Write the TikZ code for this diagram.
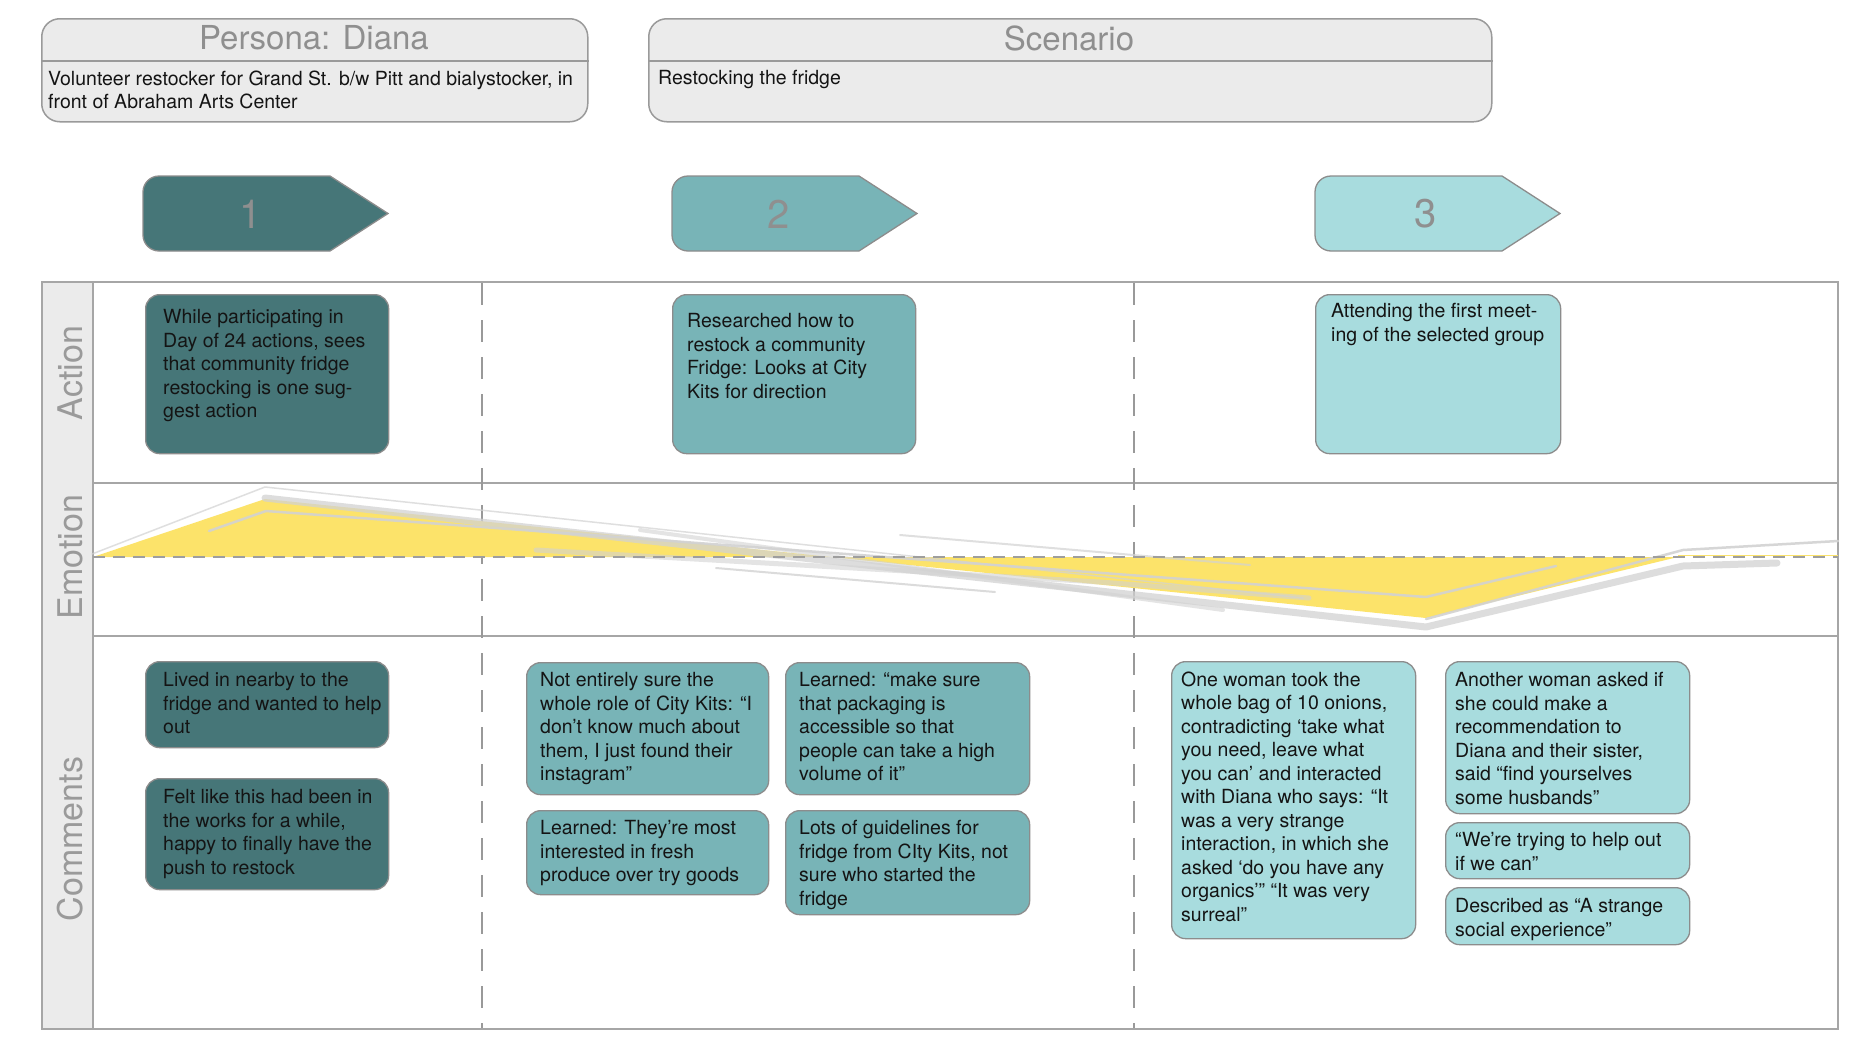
\documentclass[tikz,border=0pt]{standalone}
\usepackage{fontspec}
\setmainfont{TeX Gyre Heros}
\definecolor{tealA}{HTML}{467678}
\definecolor{tealB}{HTML}{78B4B7}
\definecolor{tealC}{HTML}{A8DCDE}
\definecolor{hdrfill}{HTML}{EBEBEB}
\definecolor{hdrline}{HTML}{9A9A9A}
\definecolor{boxline}{HTML}{8C8C8C}
\definecolor{frameline}{HTML}{A6A6A6}
\definecolor{emoyellow}{HTML}{FCE36A}
\definecolor{ttlgray}{HTML}{8F8F8F}
\definecolor{strk}{HTML}{D2D2D2}
\begin{document}
\begin{tikzpicture}[x=1pt,y=-1pt,
  card/.style={draw=boxline, line width=1.3pt, rounded corners=14pt, inner sep=0pt, anchor=north west},
  txt/.style={anchor=north west, inner sep=0pt, align=left, font=\fontsize{19.5}{23.5}\selectfont, text=black!92},
  hdr/.style={draw=hdrline, fill=hdrfill, line width=1.5pt, rounded corners=18pt, inner sep=0pt, anchor=north west},
  ttl/.style={font=\fontsize{33}{36}\selectfont, text=ttlgray, inner sep=0pt},
  lab/.style={font=\fontsize{34}{36}\selectfont, text=ttlgray!90, rotate=90, inner sep=0pt},
  num/.style={font=\fontsize{40}{44}\selectfont, text=ttlgray, inner sep=0pt},
  chev/.style={draw=boxline, line width=1.3pt},
  vdash/.style={draw=black!40, line width=1.5pt, dash pattern=on 22pt off 15pt},
  strand/.style={draw=strk, line cap=round, line join=round}
]
\useasboundingbox (0,0) rectangle (1874,1055);
\fill[white] (0,0) rectangle (1874,1055);

% ---------- header boxes ----------
\node[hdr, minimum width=546pt, minimum height=103pt] (persona) at (41,18) {};
\draw[hdrline, line width=1.5pt] (persona.west |- 0,61) -- (persona.east |- 0,61);
\node[ttl] (personattl) at (314,38) {Persona: Diana};
\node[txt] (personatxt) at (48,70.5) {Volunteer restocker for Grand St. b/w Pitt and bialystocker, in\\front of Abraham Arts Center};

\node[hdr, minimum width=843pt, minimum height=103pt] (scen) at (648,18) {};
\draw[hdrline, line width=1.5pt] (scen.west |- 0,61) -- (scen.east |- 0,61);
\node[ttl] (scenttl) at (1069,38) {Scenario};
\node[txt] (scentxt) at (658,70.5) {Restocking the fridge};

% ---------- chevrons ----------
\draw[chev, fill=tealA] (330,176) -- (388,213.5) -- (330,251) {[rounded corners=16pt] -- (143,251) -- (143,176)} -- cycle;
\node[num] (n1) at (251,214) {1};
\draw[chev, fill=tealB] (859,176) -- (917,213.5) -- (859,251) {[rounded corners=16pt] -- (672,251) -- (672,176)} -- cycle;
\node[num] (n2) at (779,214) {2};
\draw[chev, fill=tealC] (1502,176) -- (1560,213.5) -- (1502,251) {[rounded corners=16pt] -- (1315,251) -- (1315,176)} -- cycle;
\node[num] (n3) at (1426,214) {3};

% ---------- frame ----------
\draw[frameline, line width=2pt, fill=white] (42,282) rectangle (1838,1029);
\draw[frameline, line width=2pt, fill=hdrfill] (42,282) rectangle (93,1029);
\draw[frameline, line width=2pt] (93,483) -- (1838,483);
\draw[frameline, line width=2pt] (93,636) -- (1838,636);
\node[lab] (labA) at (70,373) {Action};
\node[lab] (labE) at (70,557) {Emotion};
\node[lab] (labC) at (70,839) {Comments};

\draw[vdash] (482,283) -- (482,1028);
\draw[vdash] (1134,283) -- (1134,1028);

% ---------- emotion ----------
\fill[emoyellow] (93,557) -- (265,499) -- (1426,618) -- (1678,557) -- cycle;
\draw[strand, line width=1.5pt, opacity=.7] (92,554) -- (265,487) -- (1303,598);
\draw[strand, line width=7pt, opacity=.75] (265,498) -- (1000,580) -- (1426,627) -- (1683,566) -- (1777,563);
\draw[strand, line width=2.5pt, opacity=.9] (209,531) -- (266,511) -- (1426,597) -- (1556,566);
\draw[strand, line width=2.5pt, opacity=.9] (1426,619) -- (1683,550) -- (1838,541);
\draw[strand, line width=5pt, opacity=.6] (536,550) -- (1100,582) -- (1309,598);
\draw[strand, line width=2pt, opacity=.8] (716,568) -- (995,592);
\draw[strand, line width=4pt, opacity=.6] (640,530) -- (1223,610);
\draw[strand, line width=2pt, opacity=.7] (900,535) -- (1250,565);
\draw[emoyellow, line width=1.5pt] (1678,555.5) -- (1838,555.5);
\draw[black!38, line width=2.5pt, dash pattern=on 12pt off 8pt] (93,557) -- (1838,557);

% ---------- action cards ----------
\node[card, fill=tealA, minimum width=243pt, minimum height=159pt] (act1) at (145,294) {};
\node[txt] (act1t) at (163,309.5) {While participating in\\Day of 24 actions, sees\\that community fridge\\restocking is one sug-\\gest action};
\node[card, fill=tealB, minimum width=243pt, minimum height=159pt] (act2) at (672,294) {};
\node[txt] (act2t) at (687,313.5) {Researched how to\\restock a community\\Fridge: Looks at City\\Kits for direction};
\node[card, fill=tealC, minimum width=245pt, minimum height=159pt] (act3) at (1315,294) {};
\node[txt] (act3t) at (1331,303.5) {Attending the first meet-\\ing of the selected group};

% ---------- comment cards ----------
\node[card, fill=tealA, minimum width=243pt, minimum height=86pt] (c1a) at (145,661) {};
\node[txt] (c1at) at (163,672.5) {Lived in nearby to the\\fridge and wanted to help\\out};
\node[card, fill=tealA, minimum width=243pt, minimum height=111pt] (c1b) at (145,778) {};
\node[txt] (c1bt) at (163,789.5) {Felt like this had been in\\the works for a while,\\happy to finally have the\\push to restock};

\node[card, fill=tealB, minimum width=242pt, minimum height=132pt] (c2a) at (526,662) {};
\node[txt] (c2at) at (540,672.5) {Not entirely sure the\\whole role of City Kits: “I\\don’t know much about\\them, I just found their\\instagram”};
\node[card, fill=tealB, minimum width=242pt, minimum height=84pt] (c2b) at (526,810) {};
\node[txt] (c2bt) at (540,820.5) {Learned: They’re most\\interested in fresh\\produce over try goods};
\node[card, fill=tealB, minimum width=244pt, minimum height=132pt] (c2c) at (785,662) {};
\node[txt] (c2ct) at (799,672.5) {Learned: “make sure\\that packaging is\\accessible so that\\people can take a high\\volume of it”};
\node[card, fill=tealB, minimum width=244pt, minimum height=104pt] (c2d) at (785,810) {};
\node[txt] (c2dt) at (799,820.5) {Lots of guidelines for\\fridge from CIty Kits, not\\sure who started the\\fridge};

\node[card, fill=tealC, minimum width=244pt, minimum height=277pt] (c3a) at (1171,661) {};
\node[txt] (c3at) at (1181,671.5) {One woman took the\\whole bag of 10 onions,\\contradicting ‘take what\\you need, leave what\\you can’ and interacted\\with Diana who says: “It\\was a very strange\\interaction, in which she\\asked ‘do you have any\\organics’” “It was very\\surreal”};
\node[card, fill=tealC, minimum width=244pt, minimum height=152pt] (c3b) at (1445,661) {};
\node[txt] (c3bt) at (1455,672.5) {Another woman asked if\\she could make a\\recommendation to\\Diana and their sister,\\said “find yourselves\\some husbands”};
\node[card, fill=tealC, minimum width=244pt, minimum height=56pt] (c3c) at (1445,822) {};
\node[txt] (c3ct) at (1455,832.5) {“We’re trying to help out\\if we can”};
\node[card, fill=tealC, minimum width=244pt, minimum height=57pt] (c3d) at (1445,887) {};
\node[txt] (c3dt) at (1455,898.5) {Described as “A strange\\social experience”};
\end{tikzpicture}
\end{document}
